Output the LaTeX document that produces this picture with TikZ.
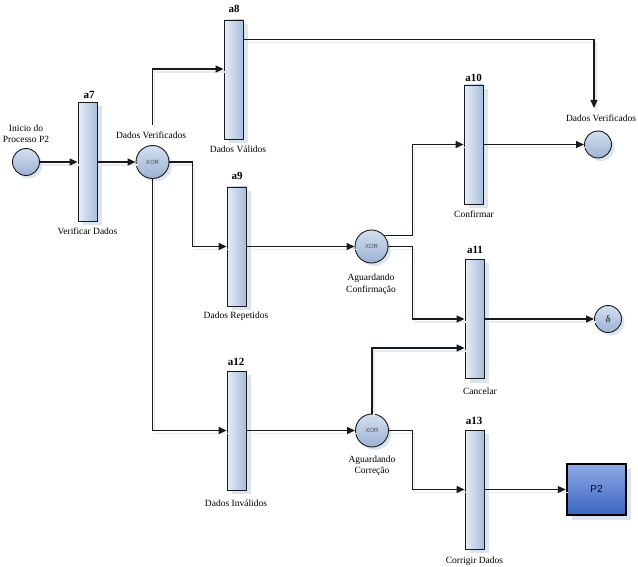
\documentclass[tikz,border=0pt]{standalone}
\usepackage{fontspec}
\setmainfont{Liberation Serif}
\newfontfamily\sansf{Liberation Sans}
\usetikzlibrary{arrows.meta,shadows}

\definecolor{barL}{HTML}{E6EDF7}
\definecolor{barR}{HTML}{A8BDDA}
\definecolor{cirT}{HTML}{D3DFEE}
\definecolor{cirB}{HTML}{9CB3D4}
\definecolor{shade}{HTML}{DCE4EF}
\definecolor{lineshade}{HTML}{E6EBF2}
\definecolor{boxT}{HTML}{8FAAE4}
\definecolor{boxB}{HTML}{3A64C2}
\definecolor{ink}{HTML}{1A1A1A}

\tikzset{
  bar/.style={draw=ink, line width=0.8pt, minimum width=19pt, minimum height=119pt,
    inner sep=0pt, left color=barL, right color=barR,
    drop shadow={shadow xshift=5pt, shadow yshift=-4pt, fill=shade, opacity=1}},
  place/.style={circle, draw=ink, line width=0.9pt, inner sep=0pt, minimum size=27pt,
    top color=cirT, bottom color=cirB,
    drop shadow={shadow xshift=3pt, shadow yshift=-3pt, fill=shade, opacity=1}},
  gate/.style={place, minimum size=33pt, font=\sansf\fontsize{6}{7}\selectfont, text=black!70},
  procbox/.style={draw=black, line width=2.5pt, minimum width=59pt, minimum height=51pt,
    top color=boxT, bottom color=boxB, font=\sansf\fontsize{10}{12}\selectfont, text=black!80!blue,
    drop shadow={shadow xshift=5pt, shadow yshift=-5pt, fill=shade, opacity=1}},
  lbl/.style={font=\fontsize{9.5}{11.5}\selectfont, align=center, inner sep=0pt},
  tag/.style={font=\bfseries\fontsize{11}{12}\selectfont, inner sep=0pt},
  flow/.style={line width=1.2pt, draw=ink, -{Triangle[length=8pt,width=7pt]},
    preaction={draw=lineshade, arrows=-, line width=1.2pt, transform canvas={xshift=2pt,yshift=-3pt}}},
}

\begin{document}
\begin{tikzpicture}[x=1pt,y=-1pt]
\useasboundingbox[fill=white] (0,0) rectangle (638,567);

% activity bars
\node[bar] (a7)  at (87.5,162)   {};
\node[bar] (a8)  at (233.5,79.5) {};
\node[bar] (a9)  at (236.5,246.5){};
\node[bar] (a10) at (473.5,144.5){};
\node[bar] (a11) at (474.5,319)  {};
\node[bar] (a12) at (236.5,430.5){};
\node[bar] (a13) at (474.5,489.5){};

% events and connectors
\node[place] (s)  at (26,162)    {};
\node[gate]  (x1) at (152.5,162) {XOR};
\node[gate]  (x2) at (371.5,246.5) {XOR};
\node[gate]  (x3) at (372,430.5) {XOR};
\node[place] (e1) at (598,144.5) {};
\node[place, font=\fontsize{9.5}{11}\selectfont] (d) at (608,319) {δ};
\node[procbox] (p2) at (596.5,489.5) {P2};

% bar tags
\node[tag] (t7)  at (89,95)   {a7};
\node[tag] (t8)  at (234,9)   {a8};
\node[tag] (t9)  at (237,176) {a9};
\node[tag] (t10) at (473.5,78){a10};
\node[tag] (t11) at (475,250) {a11};
\node[tag] (t12) at (236,362) {a12};
\node[tag] (t13) at (474,421) {a13};

% texts
\node[lbl] (l0)  at (26,134)   {Inicio do\\Processo P2};
\node[lbl] (l1)  at (151,135)  {Dados Verificados};
\node[lbl] (l7)  at (87.5,231) {Verificar Dados};
\node[lbl] (l8)  at (238,149)  {Dados Válidos};
\node[lbl] (l9)  at (236,316)  {Dados Repetidos};
\node[lbl] (l10) at (474,214)  {Confirmar};
\node[lbl] (l11) at (480,391)  {Cancelar};
\node[lbl] (l12) at (236,503)  {Dados Inválidos};
\node[lbl] (l13) at (474.5,561){Corrigir Dados};
\node[lbl] (lx2) at (371,284)  {Aguardando\\Confirmação};
\node[lbl] (lx3) at (372,465.5){Aguardando\\Correção};
\node[lbl] (le)  at (601,118)  {Dados Verificados};

% free ends of the two vertical runs that stop at the labels
\coordinate (up1) at (152.5,125);
\coordinate (dn1) at (594,108);

% flows
\draw[flow] (s.east) -- (a7.west);
\draw[flow] (a7.east) -- (x1.west);
\draw[flow] (up1) |- ([yshift=10.5pt]a8.west);
\draw[flow] (x1.east) -| ([xshift=-34pt]a9.west) -- (a9.west);
\draw[flow] (x1.south) |- (a12.west);
\draw[flow] ([yshift=-20pt]a8.north east) -| (dn1);
\draw[flow] (a9.east) -- (x2.west);
\draw[flow] (x2.40) -| ([xshift=-51pt]a10.west) -- (a10.west);
\draw[flow] (x2.east) -| ([xshift=-52pt]a11.west) -- (a11.west);
\draw[flow] (a10.east) -- (e1.west);
\draw[flow] (a11.east) -- (d.west);
\draw[flow] (a12.east) -- (x3.west);
\draw[flow] (x3.north) |- ([yshift=-29pt]a11.west);
\draw[flow] (x3.east) -| ([xshift=-52pt]a13.west) -- (a13.west);
\draw[flow] (a13.east) -- (p2.west);
\end{tikzpicture}
\end{document}
